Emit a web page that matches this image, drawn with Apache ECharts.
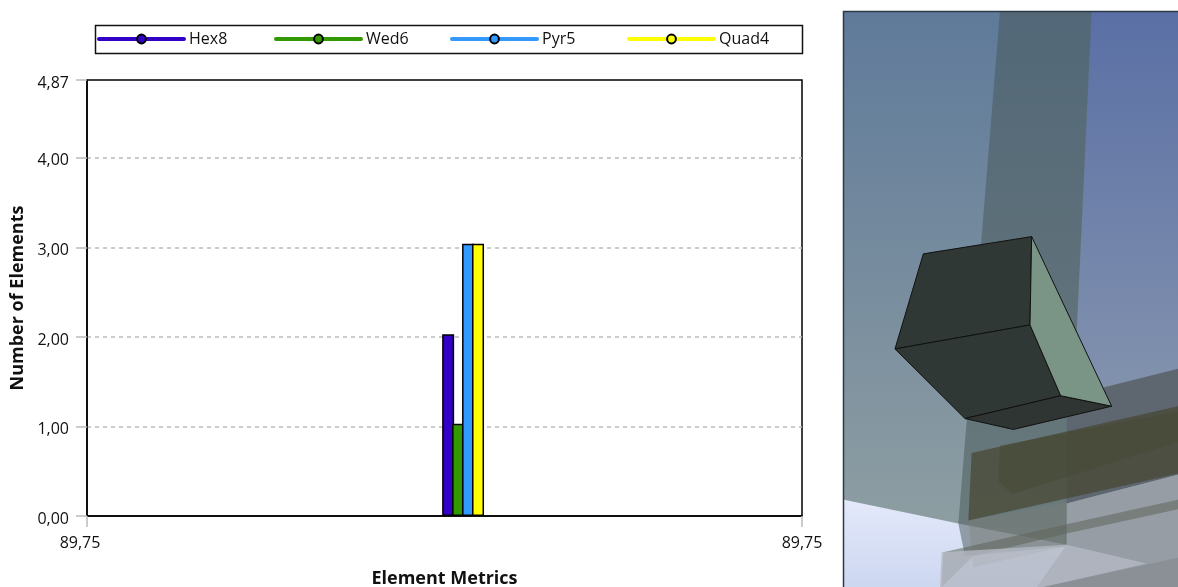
<!DOCTYPE html>
<html>
<head>
<meta charset="utf-8">
<style>html,body{margin:0;padding:0;background:#fff}#c{width:1178px;height:587px}</style>
<script src="https://cdn.jsdelivr.net/npm/echarts@6/dist/echarts.min.js"></script>
</head>
<body>
<div id="c"></div>
<script>
const seriesNames = ['Hex8', 'Wed6', 'Pyr5', 'Quad4'];
const seriesColors = ['#3300c8', '#339900', '#3399ff', '#ffff00'];
const binPosition = [0.526];
const hex8 = [2.03];
const wed6 = [1.03];
const pyr5 = [3.04];
const quad4 = [3.04];
const seriesValues = [hex8, wed6, pyr5, quad4];
const xTickLabel = '89,75';
const yMax = 4.87;
const xAxisTitle = 'Element Metrics';
const yAxisTitle = 'Number of Elements';
const legendLefts = [97, 274, 450, 627];
const FONT = '"Open Sans"';

const z = pts => pts.map(p => [840 + p[0] / 3, p[1] / 2.671]);
const grad = (x, y, x2, y2, a, b) => ({type: 'linear', x, y, x2, y2, colorStops: [{offset: 0, color: a}, {offset: 1, color: b}]});
const poly = (pts, fill, stroke) => ({
  type: 'polygon', silent: true,
  shape: {points: z(pts)},
  style: stroke ? {fill, stroke, lineWidth: 1} : {fill}
});
const scene = [
  {type: 'rect', silent: true, shape: {x: 844, y: 11, width: 334, height: 576},
    style: {fill: grad(0, 0, 0, 1, '#5f7a9a', '#93a2a3')}},
  poly([[755, 30], [1014, 30], [1014, 1000], [790, 1030], [700, 1100]], grad(0, 0, 0, 1, '#5a6fa5', '#8494ae')),
  poly([[12, 1335], [355, 1398], [680, 1455], [920, 1505], [1014, 1490], [1014, 1568], [12, 1568]], grad(0, 0, 0, 1, '#e4e9fb', '#ccd7f0')),
  poly([[480, 30], [755, 30], [680, 1460], [375, 1485], [355, 1398]], 'rgba(70,85,85,0.5)'),
  poly([[680, 1060], [1014, 985], [1014, 1268], [680, 1345]], '#5e6670'),
  poly([[680, 1345], [1014, 1268], [1014, 1568], [590, 1568], [680, 1455]], '#969da5'),
  poly([[395, 1210], [1014, 1085], [1014, 1265], [385, 1390]], 'rgba(70,70,50,0.72)'),
  poly([[480, 1190], [1014, 1100], [1014, 1180], [515, 1320], [475, 1285]], 'rgba(65,68,45,0.35)'),
  poly([[385, 1390], [680, 1340], [675, 1460], [400, 1515]], 'rgba(130,130,120,0.35)'),
  poly([[310, 1475], [680, 1400], [1014, 1335], [1014, 1360], [680, 1425], [400, 1485], [305, 1568]], 'rgba(95,100,90,0.55)'),
  poly([[305, 1475], [680, 1455], [920, 1505], [610, 1568], [300, 1568]], 'rgba(180,185,195,0.8)'),
  poly([[610, 1568], [1014, 1490], [1014, 1568]], '#8b9096'),
  poly([[250, 678], [575, 632], [570, 868], [165, 932]], '#303836', '#111'),
  poly([[165, 932], [570, 868], [662, 1057], [375, 1118]], '#303836', '#111'),
  poly([[375, 1118], [662, 1057], [815, 1085], [520, 1147]], '#2e3533', '#111'),
  poly([[575, 632], [815, 1085], [662, 1057], [570, 868]], '#7a9485', '#111'),
  {type: 'rect', silent: true, shape: {x: 843.5, y: 11.5, width: 340, height: 580},
    style: {fill: 'none', stroke: '#2d3a45', lineWidth: 1.5}},
  {type: 'rect', silent: true, shape: {x: 95.5, y: 25.5, width: 707, height: 28},
    style: {fill: '#fff', stroke: '#111', lineWidth: 1.5}, z: -1}
];

const legendLines = seriesNames.map((name, i) => ({
  name, type: 'line', data: [], showSymbol: true, symbol: 'circle', symbolSize: 9,
  lineStyle: {color: seriesColors[i], width: 4},
  itemStyle: {color: seriesColors[i], borderColor: '#000', borderWidth: 1}
}));
const bars = seriesNames.map((name, i) => ({
  name, type: 'bar', barWidth: 12, barGap: '-17%',
  data: binPosition.map((x, j) => [x, seriesValues[i][j]]),
  itemStyle: {color: seriesColors[i], borderColor: '#000', borderWidth: 1.5}
}));
const legends = seriesNames.map((name, i) => ({
  left: legendLefts[i], top: 31, padding: 0, itemGap: 0, itemWidth: 85, itemHeight: 11,
  selectedMode: false, data: [name],
  lineStyle: {width: 4, cap: 'round'},
  textStyle: {fontFamily: FONT, fontSize: 16, color: '#111'}
}));

const chart = echarts.init(document.getElementById('c'), null, {renderer: 'canvas'});
chart.setOption({
  animation: false,
  backgroundColor: '#fff',
  textStyle: {fontFamily: FONT},
  graphic: {elements: scene},
  legend: legends,
  grid: {left: 87, right: 376, top: 80, bottom: 71, show: true, borderColor: '#000', borderWidth: 1.5, backgroundColor: '#fff', outerBoundsMode: 'none'},
  xAxis: {
    type: 'value', min: 0, max: 1, interval: 1,
    name: xAxisTitle, nameLocation: 'middle', nameGap: 54,
    nameTextStyle: {fontFamily: FONT, fontSize: 18, fontWeight: 'bold', color: '#111'},
    axisLine: {show: true, lineStyle: {color: '#000', width: 1.5}},
    axisTick: {show: true, length: 11, lineStyle: {color: '#bbb', width: 1.5}},
    axisLabel: {
      formatter: v => v === 0 ? '{l|' + xTickLabel + '}' : xTickLabel,
      rich: {l: {padding: [0, 14, 0, 0], fontSize: 16, color: '#111', fontFamily: FONT}},
      fontSize: 16, color: '#111', margin: 19, hideOverlap: false
    },
    splitLine: {show: false}
  },
  yAxis: {
    type: 'value', min: 0, max: yMax, interval: 1,
    name: yAxisTitle, nameLocation: 'middle', nameGap: 52,
    nameTextStyle: {fontFamily: FONT, fontSize: 18, fontWeight: 'bold', color: '#111'},
    axisLine: {show: true, lineStyle: {color: '#000', width: 1.5}},
    axisTick: {show: true, length: 11, lineStyle: {color: '#bbb', width: 1.5}},
    axisLabel: {formatter: v => v.toFixed(2).replace('.', ','), fontSize: 16, color: '#111', margin: 18, verticalAlign: 'top', lineHeight: 6},
    splitLine: {show: true, showMinLine: false, showMaxLine: false, lineStyle: {color: '#bbb', type: [4, 4], width: 1.5}}
  },
  series: legendLines.concat(bars)
});
</script>
</body>
</html>
